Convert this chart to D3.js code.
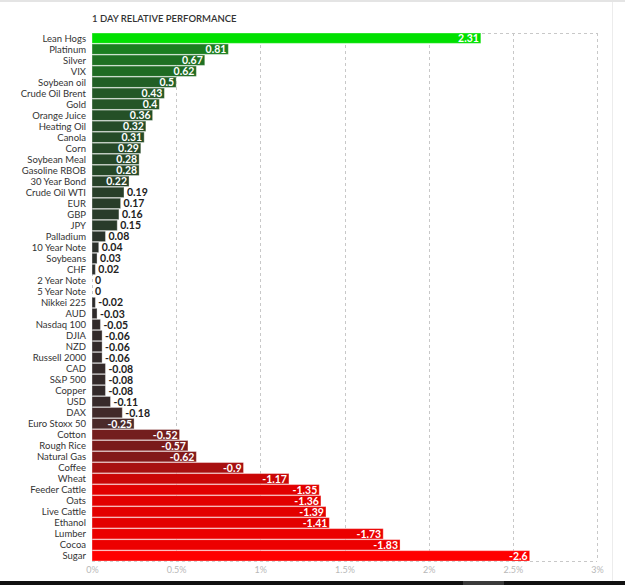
<!DOCTYPE html>
<html>
<head>
<meta charset="utf-8">
<script src="https://cdn.jsdelivr.net/npm/d3@7"></script>
<style>
    body { margin: 0; background: #fff; }
    svg { display: block; font-family: Lato, "Open Sans", sans-serif; }
</style>
</head>
<body>
<svg id="chart" width="625" height="585"></svg>
<script>
// instruments, top to bottom
const names = ["Lean Hogs", "Platinum", "Silver", "VIX", "Soybean oil", "Crude Oil Brent", "Gold",
    "Orange Juice", "Heating Oil", "Canola", "Corn", "Soybean Meal", "Gasoline RBOB", "30 Year Bond",
    "Crude Oil WTI", "EUR", "GBP", "JPY", "Palladium", "10 Year Note", "Soybeans", "CHF",
    "2 Year Note", "5 Year Note", "Nikkei 225", "AUD", "Nasdaq 100", "DJIA", "NZD", "Russell 2000",
    "CAD", "S&P 500", "Copper", "USD", "DAX", "Euro Stoxx 50", "Cotton", "Rough Rice", "Natural Gas",
    "Coffee", "Wheat", "Feeder Cattle", "Oats", "Live Cattle", "Ethanol", "Lumber", "Cocoa", "Sugar"];

// 1 day change, percent
const changes = [2.31, 0.81, 0.67, 0.62, 0.5, 0.43, 0.4, 0.36, 0.32, 0.31, 0.29, 0.28, 0.28, 0.22,
    0.19, 0.17, 0.16, 0.15, 0.08, 0.04, 0.03, 0.02, 0, 0, -0.02, -0.03, -0.05, -0.06, -0.06, -0.06,
    -0.08, -0.08, -0.08, -0.11, -0.18, -0.25, -0.52, -0.57, -0.62, -0.9, -1.17, -1.35, -1.36, -1.39,
    -1.41, -1.73, -1.83, -2.6];

const tickValues = [0, 0.5, 1, 1.5, 2, 2.5, 3];

const data = names.map((n, i) => ({ name: n, value: changes[i] }));

const svg = d3.select("#chart");
const plotLeft = 92, plotRight = 597, plotTop = 33, plotBottom = 561;

// frame bits from the page around the chart
svg.append("rect").attr("x", 0).attr("y", 0).attr("width", 625).attr("height", 2).attr("fill", "#e4e4e4");
svg.append("line").attr("x1", 612.5).attr("x2", 612.5).attr("y1", 2).attr("y2", 581)
    .attr("stroke", "#ececec");
svg.append("rect").attr("x", 0).attr("y", 581).attr("width", 625).attr("height", 4).attr("fill", "#111");
svg.append("rect").attr("x", 463).attr("y", 581).attr("width", 41).attr("height", 4).attr("fill", "#3a3a3a");

svg.append("text")
    .attr("x", plotLeft).attr("y", 22)
    .attr("font-size", 9.5).attr("font-weight", 600).attr("fill", "#333")
    .text("1 DAY RELATIVE PERFORMANCE");

let x = d3.scaleLinear().domain([0, 3]).range([plotLeft, plotRight]);
let y = d3.scaleBand().domain(names).range([plotTop, plotBottom]).paddingInner(0.06);

let posColor = d3.scaleLinear().domain([0, 0.8, 2.31])
    .range(["#2c2c2c", "#1b7d20", "#00e000"]).clamp(true);
let negColor = d3.scaleLinear().domain([0, -0.25, -0.6, -1.35, -2.6])
    .range(["#2a2a2a", "#4a2a2a", "#7f1a1a", "#e20000", "#ff0000"]).clamp(true);

// dashed grid and frame
const grid = svg.append("g").attr("stroke", "#c8c8c8").attr("stroke-dasharray", "3,3");
grid.selectAll("line.v").data(tickValues).enter().append("line")
    .attr("x1", d => Math.round(x(d)) + 0.5).attr("x2", d => Math.round(x(d)) + 0.5)
    .attr("y1", plotTop).attr("y2", plotBottom);
grid.append("line").attr("x1", plotLeft).attr("x2", plotRight)
    .attr("y1", plotTop + 0.5).attr("y2", plotTop + 0.5);
grid.append("line").attr("x1", plotLeft).attr("x2", plotRight)
    .attr("y1", plotBottom + 0.5).attr("y2", plotBottom + 0.5);

let xAxis = d3.axisBottom(x).tickValues(tickValues).tickSize(0).tickPadding(6)
    .tickFormat(d => d + "%");
svg.append("g")
    .attr("transform", "translate(0," + plotBottom + ")")
    .call(xAxis)
    .call(g => g.select(".domain").remove())
    .selectAll("text")
    .attr("font-family", "Lato, sans-serif")
    .attr("font-size", 9).attr("fill", "#b8b8b8");

// category labels
svg.append("g").selectAll("text").data(data).enter().append("text")
    .attr("x", 86)
    .attr("y", d => y(d.name) + y.bandwidth() / 2)
    .attr("dy", "0.35em")
    .attr("text-anchor", "end")
    .attr("font-size", 9.5).attr("fill", "#333")
    .text(d => d.name);

// bars
svg.append("g").selectAll("rect").data(data).enter().append("rect")
    .attr("x", plotLeft)
    .attr("y", d => y(d.name))
    .attr("width", d => x(Math.abs(d.value)) - plotLeft)
    .attr("height", y.bandwidth())
    .attr("fill", d => d.value >= 0 ? posColor(d.value) : negColor(d.value))
    .attr("stroke", "rgba(255,255,255,0.35)")
    .attr("stroke-width", 1);

// value labels, inside when the bar is wide enough
const inside = d => x(Math.abs(d.value)) - plotLeft > 36;
svg.append("g").selectAll("text").data(data).enter().append("text")
    .attr("x", d => inside(d) ? x(Math.abs(d.value)) - 2 : x(Math.abs(d.value)) + 3)
    .attr("y", d => y(d.name) + y.bandwidth() / 2)
    .attr("dy", "0.38em")
    .attr("text-anchor", d => inside(d) ? "end" : "start")
    .attr("font-size", 10.5).attr("font-weight", 700)
    .attr("fill", d => inside(d) ? "#fff" : "#222")
    .text(d => d.value);
</script>
</body>
</html>
